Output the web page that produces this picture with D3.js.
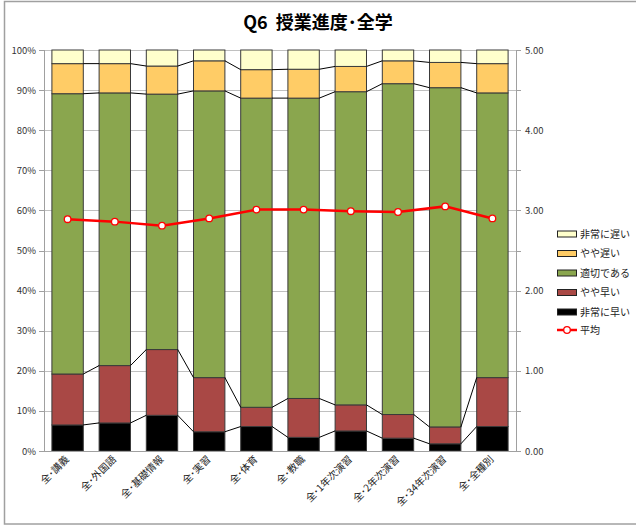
<!DOCTYPE html>
<html><head><meta charset="utf-8">
<script src="https://cdn.jsdelivr.net/npm/d3@7"></script>
<style>body{margin:0;background:#fff;} text{font-family:"Noto Sans CJK JP","Noto Sans",sans-serif;}</style>
</head><body><svg id="c" width="636" height="527"></svg>
<script>
const categories = ["全･講義","全･外国語","全･基礎情報","全･実習","全･体育","全･教職","全･1年次演習","全･2年次演習","全･34年次演習","全･全種別"];
const seriesNames = ["非常に早い","やや早い","適切である","やや遅い","非常に遅い"];
// percentages per category (bottom to top)
const veryEarly = [6.5, 7.0, 8.9, 4.8, 6.1, 3.4, 5.0, 3.2, 1.8, 6.1];
const slightlyEarly = [12.7, 14.3, 16.4, 13.5, 4.8, 9.7, 6.5, 5.9, 4.2, 12.2];
const appropriate = [69.9, 68.0, 63.7, 71.5, 77.1, 74.9, 78.1, 82.5, 84.6, 71.0];
const slightlyLate = [7.5, 7.3, 7.0, 7.5, 7.1, 7.2, 6.3, 5.7, 6.3, 7.3];
const veryLate = [3.4, 3.4, 4.0, 2.7, 4.9, 4.8, 4.1, 2.7, 3.1, 3.4];
const average = [2.89, 2.86, 2.81, 2.90, 3.01, 3.01, 2.99, 2.98, 3.05, 2.90];
const leftTicks = [0,10,20,30,40,50,60,70,80,90,100];
const rightTicks = [0,1,2,3,4,5];
const colors = ["#000000","#A94845","#8AA64E","#FFCC66","#FFFFCC"];

const svg = d3.select("#c");
const L=44, R=516, T=50, B=451;
// outer border
svg.append("rect").attr("x",4.5).attr("y",1.5).attr("width",660).attr("height",522.5)
  .attr("fill","none").attr("stroke","#a0a0a0").attr("stroke-width",1.5);

svg.append("text").attr("x",318).attr("y",29).attr("text-anchor","middle")
  .attr("font-size",18).attr("font-weight","bold").style("white-space","pre").text("Q6  授業進度･全学");

const x = d3.scaleBand().domain(categories).range([L,R]).paddingInner(0.335).paddingOuter(0.1675);
const y = d3.scaleLinear().domain([0,100]).range([B,T]);
const y2 = d3.scaleLinear().domain([0,5]).range([B,T]);

// gridlines
svg.append("g").selectAll("line").data(leftTicks).join("line")
  .attr("x1",L).attr("x2",R).attr("y1",d=>Math.round(y(d))+0.5).attr("y2",d=>Math.round(y(d))+0.5)
  .attr("stroke","#c0c0c0").attr("stroke-width",1);

// stack
const rows = categories.map((c,i)=>({cat:c, s0:veryEarly[i], s1:slightlyEarly[i], s2:appropriate[i], s3:slightlyLate[i], s4:veryLate[i]}));
const stack = d3.stack().keys(["s0","s1","s2","s3","s4"])(rows);

const g = svg.append("g");
stack.forEach((layer,k)=>{
  g.append("g").selectAll("rect").data(layer).join("rect")
    .attr("x",d=>x(d.data.cat)).attr("width",x.bandwidth())
    .attr("y",d=>y(d[1])).attr("height",d=>y(d[0])-y(d[1]))
    .attr("fill",colors[k]).attr("stroke","#3a3a3a").attr("stroke-width",1);
});
// series connector lines
stack.forEach((layer,k)=>{
  if(k===4) return;
  for(let i=0;i<layer.length-1;i++){
    g.append("line")
      .attr("x1",x(categories[i])+x.bandwidth()).attr("y1",y(layer[i][1]))
      .attr("x2",x(categories[i+1])).attr("y2",y(layer[i+1][1]))
      .attr("stroke","#000").attr("stroke-width",1);
  }
});

// axes
const ax = svg.append("g").attr("stroke","#a0a0a0");
ax.append("line").attr("x1",L+0.5).attr("x2",L+0.5).attr("y1",T).attr("y2",B+1);
ax.append("line").attr("x1",R+0.5).attr("x2",R+0.5).attr("y1",T).attr("y2",B+1);
ax.append("line").attr("x1",L).attr("x2",R).attr("y1",B+0.5).attr("y2",B+0.5);
ax.selectAll(".lt").data(leftTicks).join("line").attr("x1",L-5).attr("x2",L)
  .attr("y1",d=>Math.round(y(d))+0.5).attr("y2",d=>Math.round(y(d))+0.5);
ax.selectAll(".rt").data(d3.range(0,5.01,0.5)).join("line").attr("x1",R).attr("x2",R+5)
  .attr("y1",d=>Math.round(y2(d))+0.5).attr("y2",d=>Math.round(y2(d))+0.5);

svg.append("g").selectAll("text").data(leftTicks).join("text")
  .attr("x",36).attr("y",d=>y(d)+3.5).attr("text-anchor","end").attr("font-size",9.5).attr("fill","#333")
  .text(d=>d+"%");
svg.append("g").selectAll("text").data(rightTicks).join("text")
  .attr("x",525).attr("y",d=>y2(d)+3.5).attr("text-anchor","start").attr("font-size",9.5).attr("fill","#333")
  .text(d=>d.toFixed(2));

// x labels
svg.append("g").selectAll("text").data(categories).join("text")
  .attr("transform",d=>`translate(${x(d)+x.bandwidth()/2+2},${B+9}) rotate(-45)`)
  .attr("text-anchor","end").attr("font-size",10).attr("fill","#222").text(d=>d);

// average line
const line = d3.line().x((d,i)=>x(categories[i])+x.bandwidth()/2).y(d=>y2(d));
svg.append("path").datum(average).attr("d",line).attr("fill","none").attr("stroke","#ff0000").attr("stroke-width",2.5);
svg.append("g").selectAll("circle").data(average).join("circle")
  .attr("cx",(d,i)=>x(categories[i])+x.bandwidth()/2).attr("cy",d=>y2(d)).attr("r",3.3)
  .attr("fill","#fff").attr("stroke","#ff0000").attr("stroke-width",1.3);

// legend
const legendItems = [
  {name:"非常に遅い", c:colors[4]},
  {name:"やや遅い", c:colors[3]},
  {name:"適切である", c:colors[2]},
  {name:"やや早い", c:colors[1]},
  {name:"非常に早い", c:colors[0]},
  {name:"平均", line:true}
];
const ly = [234,253.5,273,292.5,312,330];
const lg = svg.append("g");
legendItems.forEach((it,i)=>{
  const yy = ly[i];
  if(it.line){
    lg.append("line").attr("x1",557).attr("x2",577).attr("y1",yy).attr("y2",yy).attr("stroke","#ff0000").attr("stroke-width",2.5);
    lg.append("circle").attr("cx",567).attr("cy",yy).attr("r",3.3).attr("fill","#fff").attr("stroke","#ff0000").attr("stroke-width",1.3);
  } else {
    lg.append("rect").attr("x",557.5).attr("y",yy-3).attr("width",19).attr("height",6)
      .attr("fill",it.c).attr("stroke","#222").attr("stroke-width",1);
  }
  lg.append("text").attr("x",580).attr("y",yy+3.5).attr("font-size",10).attr("fill","#222").text(it.name);
});
</script></body></html>
